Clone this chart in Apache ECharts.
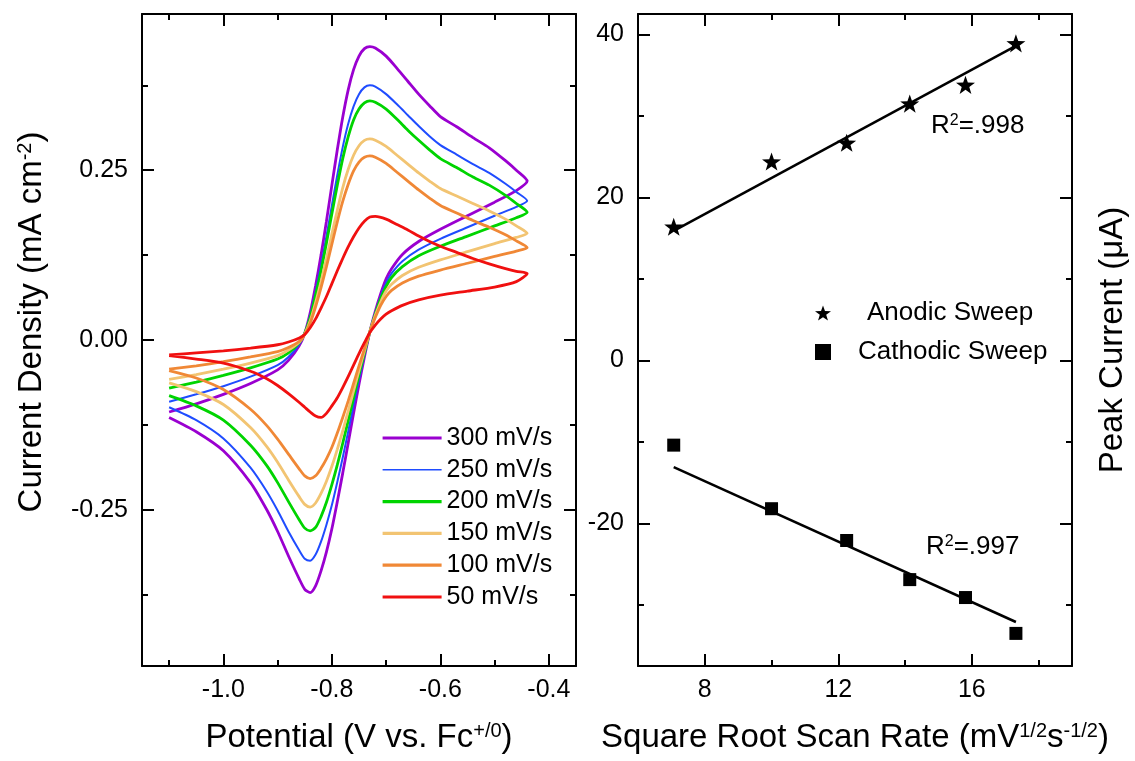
<!DOCTYPE html>
<html>
<head>
<meta charset="utf-8">
<script src="https://cdn.jsdelivr.net/npm/echarts@6/dist/echarts.min.js"></script>
<style>
  html, body { margin: 0; padding: 0; background: #fff; }
  #chart { width: 1135px; height: 761px; }
</style>
</head>
<body>
<div id="chart"></div>
<script>
// ---- Cyclic voltammograms: potential grids (V vs Fc+/0) ----
const fwdPotential = [-1.10, -1.05, -1.00, -0.95, -0.90, -0.88, -0.86, -0.85, -0.84, -0.83, -0.82, -0.81, -0.80, -0.79, -0.78, -0.77, -0.76, -0.75, -0.74, -0.73, -0.72, -0.70, -0.68, -0.66, -0.64, -0.62, -0.60, -0.57, -0.54, -0.51, -0.48, -0.46, -0.44];
const revPotential = [-0.44, -0.46, -0.50, -0.55, -0.60, -0.64, -0.67, -0.69, -0.70, -0.71, -0.72, -0.73, -0.74, -0.75, -0.76, -0.77, -0.78, -0.79, -0.80, -0.81, -0.82, -0.83, -0.84, -0.85, -0.86, -0.88, -0.90, -0.92, -0.95, -1.00, -1.05, -1.10];

// current density (mA cm-2), anodic (forward) and cathodic (reverse) sweeps
const fwd300 = [-0.106, -0.094, -0.080, -0.064, -0.044, -0.030, -0.008, 0.010, 0.040, 0.080, 0.125, 0.175, 0.228, 0.280, 0.328, 0.368, 0.398, 0.418, 0.429, 0.432, 0.430, 0.418, 0.400, 0.381, 0.362, 0.345, 0.329, 0.314, 0.298, 0.283, 0.264, 0.250, 0.234];
const rev300 = [0.234, 0.220, 0.203, 0.183, 0.163, 0.145, 0.126, 0.105, 0.090, 0.068, 0.042, 0.012, -0.025, -0.065, -0.108, -0.152, -0.196, -0.238, -0.278, -0.312, -0.340, -0.362, -0.372, -0.367, -0.352, -0.318, -0.282, -0.250, -0.210, -0.163, -0.135, -0.114];
const fwd250 = [-0.091, -0.080, -0.068, -0.054, -0.037, -0.025, -0.006, 0.010, 0.036, 0.071, 0.110, 0.153, 0.198, 0.243, 0.284, 0.318, 0.344, 0.362, 0.372, 0.375, 0.373, 0.362, 0.347, 0.331, 0.315, 0.300, 0.287, 0.273, 0.259, 0.246, 0.230, 0.218, 0.205];
const rev250 = [0.205, 0.196, 0.183, 0.166, 0.149, 0.133, 0.116, 0.098, 0.084, 0.064, 0.040, 0.012, -0.022, -0.058, -0.096, -0.135, -0.173, -0.209, -0.243, -0.272, -0.297, -0.316, -0.325, -0.322, -0.310, -0.282, -0.251, -0.223, -0.188, -0.145, -0.118, -0.099];
const fwd200 = [-0.071, -0.062, -0.052, -0.041, -0.028, -0.019, -0.004, 0.010, 0.033, 0.066, 0.102, 0.143, 0.186, 0.228, 0.267, 0.299, 0.324, 0.340, 0.349, 0.352, 0.350, 0.340, 0.325, 0.309, 0.294, 0.280, 0.267, 0.254, 0.240, 0.228, 0.213, 0.201, 0.188];
const rev200 = [0.188, 0.180, 0.168, 0.153, 0.138, 0.124, 0.108, 0.092, 0.079, 0.061, 0.038, 0.012, -0.019, -0.051, -0.085, -0.119, -0.152, -0.184, -0.213, -0.239, -0.260, -0.276, -0.281, -0.277, -0.265, -0.238, -0.210, -0.185, -0.155, -0.118, -0.097, -0.082];
const fwd150 = [-0.058, -0.051, -0.043, -0.034, -0.023, -0.015, -0.003, 0.009, 0.028, 0.055, 0.086, 0.120, 0.156, 0.191, 0.224, 0.251, 0.272, 0.286, 0.294, 0.296, 0.294, 0.285, 0.272, 0.259, 0.246, 0.234, 0.223, 0.212, 0.201, 0.190, 0.178, 0.168, 0.157];
const rev150 = [0.157, 0.151, 0.142, 0.130, 0.118, 0.107, 0.095, 0.082, 0.072, 0.056, 0.036, 0.012, -0.016, -0.045, -0.075, -0.105, -0.134, -0.161, -0.186, -0.208, -0.226, -0.240, -0.246, -0.242, -0.231, -0.206, -0.180, -0.157, -0.129, -0.095, -0.076, -0.063];
const fwd100 = [-0.043, -0.038, -0.032, -0.025, -0.017, -0.011, -0.002, 0.008, 0.025, 0.049, 0.077, 0.108, 0.141, 0.174, 0.204, 0.229, 0.249, 0.262, 0.269, 0.271, 0.269, 0.260, 0.247, 0.234, 0.221, 0.209, 0.198, 0.187, 0.176, 0.166, 0.155, 0.146, 0.136];
const rev100 = [0.136, 0.131, 0.123, 0.113, 0.103, 0.094, 0.084, 0.073, 0.064, 0.051, 0.033, 0.012, -0.013, -0.038, -0.064, -0.090, -0.114, -0.137, -0.158, -0.175, -0.189, -0.200, -0.204, -0.200, -0.190, -0.168, -0.146, -0.126, -0.102, -0.073, -0.056, -0.045];
const fwd50 = [-0.022, -0.019, -0.016, -0.012, -0.007, -0.003, 0.003, 0.008, 0.018, 0.031, 0.047, 0.064, 0.083, 0.102, 0.120, 0.137, 0.152, 0.165, 0.175, 0.181, 0.182, 0.178, 0.170, 0.162, 0.153, 0.145, 0.138, 0.129, 0.120, 0.112, 0.105, 0.101, 0.098];
const rev50 = [0.098, 0.086, 0.078, 0.072, 0.066, 0.059, 0.051, 0.043, 0.038, 0.031, 0.022, 0.011, -0.004, -0.020, -0.037, -0.054, -0.070, -0.085, -0.097, -0.108, -0.114, -0.112, -0.106, -0.099, -0.092, -0.079, -0.067, -0.057, -0.046, -0.034, -0.028, -0.023];

const scanRates = ['300 mV/s', '250 mV/s', '200 mV/s', '150 mV/s', '100 mV/s', '50 mV/s'];
const scanColors = ['#9a00d0', '#1f4cff', '#00d400', '#f2c472', '#f08836', '#f01010'];
const forwardSweeps = [fwd300, fwd250, fwd200, fwd150, fwd100, fwd50];
const reverseSweeps = [rev300, rev250, rev200, rev150, rev100, rev50];

// ---- Peak current vs square root of scan rate ----
const sqrtScanRate = [7.07, 10.00, 12.25, 14.14, 15.81, 17.32];
const anodicPeak = [16.4, 24.4, 26.7, 31.5, 33.8, 38.9];
const cathodicPeak = [-10.4, -18.2, -22.1, -26.9, -29.1, -33.5];
const anodicFitX = [7.07, 17.32];
const anodicFitY = [15.9, 38.6];
const cathodicFitX = [7.07, 17.32];
const cathodicFitY = [-13.1, -32.1];

// ---- tick values ----
const cvXMajor = [-1.0, -0.8, -0.6, -0.4];
const cvXMinor = [-1.1, -0.9, -0.7, -0.5];
const cvYMajor = [-0.25, 0, 0.25];
const cvYMinor = [-0.375, -0.125, 0.125, 0.375];
const pkXMajor = [8, 12, 16];
const pkXMinor = [10, 14, 18];
const pkYMajor = [-20, 0, 20, 40];
const pkYMinor = [-30, -10, 10, 30];

const FONT = '"Liberation Sans", Arial, Helvetica, sans-serif';
const BLACK = '#000';

// four axes per dimension: labelled side (major + minor ticks) and mirrored side (major + minor ticks)
function frameAxes(dim, gridIndex, min, max, major, minor, fmt, labelMargin) {
  const main = dim === 'x' ? 'bottom' : 'left';
  const mirror = dim === 'x' ? 'top' : 'right';
  const base = { type: 'value', gridIndex, min, max, splitLine: { show: false }, axisPointer: { show: false } };
  const line = { show: true, onZero: false, lineStyle: { color: BLACK, width: 2 } };
  const noLine = { show: false, onZero: false };
  const majorTick = { show: true, inside: true, length: 12, customValues: major, lineStyle: { color: BLACK, width: 2 } };
  const minorTick = { show: true, inside: true, length: 6, customValues: minor, lineStyle: { color: BLACK, width: 2 } };
  return [
    Object.assign({}, base, { position: main, axisLine: line, axisTick: majorTick,
      axisLabel: { show: true, customValues: major, formatter: fmt, margin: labelMargin, color: BLACK, fontSize: 25, fontFamily: FONT } }),
    Object.assign({}, base, { position: main, axisLine: noLine, axisTick: minorTick, axisLabel: { show: false } }),
    Object.assign({}, base, { position: mirror, axisLine: line, axisTick: majorTick, axisLabel: { show: false } }),
    Object.assign({}, base, { position: mirror, axisLine: noLine, axisTick: minorTick, axisLabel: { show: false } })
  ];
}

const xAxes = frameAxes('x', 0, -1.15, -0.35, cvXMajor, cvXMinor, v => v.toFixed(1), 12)
  .concat(frameAxes('x', 1, 6, 19, pkXMajor, pkXMinor, v => String(v), 12));
const yAxes = frameAxes('y', 0, -0.48, 0.48, cvYMajor, cvYMinor, v => v.toFixed(2), 14)
  .concat(frameAxes('y', 1, -37.5, 42.5, pkYMajor, pkYMinor, v => String(v), 14));

const lineWidthOf = k => (k === 1 ? 2.0 : 2.8);

const cvSeries = scanRates.map((name, k) => ({
  name,
  type: 'line',
  xAxisIndex: 0,
  yAxisIndex: 0,
  symbol: 'none',
  smooth: 0.25,
  z: 10 + k,
  lineStyle: { color: scanColors[k], width: lineWidthOf(k) },
  itemStyle: { color: scanColors[k] },
  data: fwdPotential.map((v, i) => [v, forwardSweeps[k][i]])
    .concat(revPotential.map((v, i) => [v, reverseSweeps[k][i]]))
}));

const STAR = 'path://M0,-10L2.35,-3.24L9.51,-3.09L3.8,1.24L5.88,8.09L0,4L-5.88,8.09L-3.8,1.24L-9.51,-3.09L-2.35,-3.24Z';

const peakSeries = [
  {
    name: 'Anodic Fit', type: 'line', xAxisIndex: 4, yAxisIndex: 4, symbol: 'none',
    lineStyle: { color: BLACK, width: 2.5 }, z: 20,
    data: anodicFitX.map((x, i) => [x, anodicFitY[i]])
  },
  {
    name: 'Cathodic Fit', type: 'line', xAxisIndex: 4, yAxisIndex: 4, symbol: 'none',
    lineStyle: { color: BLACK, width: 2.5 }, z: 20,
    data: cathodicFitX.map((x, i) => [x, cathodicFitY[i]])
  },
  {
    name: 'Anodic Sweep', type: 'scatter', xAxisIndex: 4, yAxisIndex: 4,
    symbol: STAR, symbolSize: 19, symbolKeepAspect: true, z: 30,
    itemStyle: { color: BLACK, opacity: 1 },
    data: sqrtScanRate.map((x, i) => [x, anodicPeak[i]])
  },
  {
    name: 'Cathodic Sweep', type: 'scatter', xAxisIndex: 4, yAxisIndex: 4,
    symbol: 'rect', symbolSize: 13, z: 30,
    itemStyle: { color: BLACK, opacity: 1 },
    data: sqrtScanRate.map((x, i) => [x, cathodicPeak[i]])
  }
];

const supStyle = size => ({ fontSize: size, fontFamily: FONT, fill: BLACK, verticalAlign: 'top' });
function titleText(x, y, text, rotation) {
  return {
    type: 'text', x, y, rotation: rotation || 0, silent: true,
    style: {
      text, fontSize: 33, fontFamily: FONT, fill: BLACK, align: 'center', verticalAlign: 'middle',
      rich: { sup: supStyle(20) }
    }
  };
}
function noteText(x, y, text) {
  return {
    type: 'text', x, y, silent: true,
    style: {
      text, fontSize: 26, fontFamily: FONT, fill: BLACK, align: 'left', verticalAlign: 'middle',
      rich: { sup: supStyle(16) }
    }
  };
}

const option = {
  backgroundColor: '#fff',
  animation: false,
  grid: [
    { left: 142, top: 14, width: 434, height: 652, outerBoundsMode: 'none' },
    { left: 638, top: 14, width: 434, height: 652, outerBoundsMode: 'none' }
  ],
  xAxis: xAxes,
  yAxis: yAxes,
  legend: [
    {
      data: scanRates.map((name, k) => ({ name, lineStyle: { width: k === 1 ? 1.6 : 3.2 } })),
      orient: 'vertical', left: 381, top: 425, padding: 0,
      itemWidth: 59, itemHeight: 26, itemGap: 5.8, selectedMode: false,
      itemStyle: { opacity: 0 },
      textStyle: { fontSize: 25, fontFamily: FONT, color: BLACK, lineHeight: 26 }
    },
    {
      data: ['Anodic Sweep', 'Cathodic Sweep'], orient: 'vertical', left: 815, top: 300, padding: 0,
      itemWidth: 16, itemHeight: 16, itemGap: 13, selectedMode: false,
      formatter: name => (name === 'Anodic Sweep' ? '{a|' + name + '}' : '{c|' + name + '}'),
      textStyle: {
        fontSize: 26, fontFamily: FONT, color: BLACK, lineHeight: 26,
        rich: {
          a: { fontSize: 26, fontFamily: FONT, color: BLACK, padding: [0, 0, 0, 31] },
          c: { fontSize: 26, fontFamily: FONT, color: BLACK, padding: [0, 0, 0, 22] }
        }
      }
    }
  ],
  graphic: [
    titleText(359, 738, 'Potential (V vs. Fc{sup|+/0})'),
    titleText(855, 738, 'Square Root Scan Rate (mV{sup|1/2}s{sup|-1/2})'),
    titleText(32, 322, 'Current Density (mA cm{sup|-2})', Math.PI / 2),
    titleText(1113, 340, 'Peak Current (\u03BCA)', Math.PI / 2),
    noteText(931, 126, 'R{sup|2}=.998'),
    noteText(926, 547, 'R{sup|2}=.997')
  ],
  series: cvSeries.concat(peakSeries)
};

const chart = echarts.init(document.getElementById('chart'), null, { renderer: 'canvas' });
chart.setOption(option);
</script>
</body>
</html>
